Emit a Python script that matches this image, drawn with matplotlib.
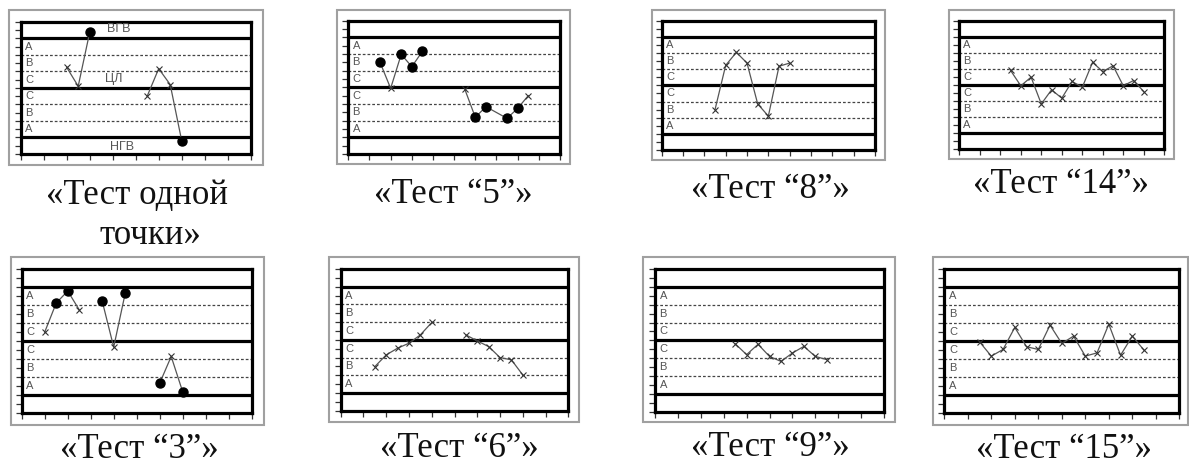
import numpy as np
import matplotlib
matplotlib.use('Agg')
from matplotlib import pyplot as plt
from matplotlib.patches import Rectangle

nan = np.nan

# control chart series, y in sigma units from the centre line
one_x = [2, 2.5, 3, nan, 5.5, 6, 6.5, 7]
one_y = [1.24, 0.1, 3.36, nan, -0.5, 1.16, 0.2, -3.2]
one_hit = [0, 0, 1, 0, 0, 0, 0, 1]

five_x = [1.5, 2, 2.5, 3, 3.5, nan, 5.5, 6, 6.5, 7.5, 8, 8.5]
five_y = [1.5, -0.06, 1.98, 1.24, 2.16, nan, -0.1, -1.8, -1.16, -1.86, -1.26, -0.5]
five_hit = [1, 0, 1, 1, 1, 0, 0, 1, 1, 1, 1, 0]

eight_x = [2.5, 3, 3.5, 4, 4.5, 5, 5.5, 6]
eight_y = [-1.5, 1.24, 2.04, 1.38, -1.15, -1.9, 1.18, 1.38]

fourteen_x = [2.5, 3, 3.5, 4, 4.5, 5, 5.5, 6, 6.5, 7, 7.5, 8, 8.5, 9]
fourteen_y = [0.9, -0.06, 0.48, -1.19, -0.31, -0.83, 0.21, -0.15, 1.4, 0.83,
              1.19, -0.06, 0.27, -0.42]

three_x = [1, 1.5, 2, 2.5, nan, 3.5, 4, 4.5, nan, 6, 6.5, 7]
three_y = [0.5, 2.11, 2.78, 1.74, nan, 2.22, -0.33, 2.65, nan, -2.33, -0.85, -2.81]
three_hit = [0, 1, 1, 0, 0, 1, 0, 1, 0, 1, 0, 1]

six_x = [1.5, 2, 2.5, 3, 3.5, 4, nan, 5.5, 6, 6.5, 7, 7.5, 8]
six_y = [-1.51, -0.85, -0.47, -0.19, 0.28, 0.98, nan, 0.28, -0.06, -0.38, -1.0, -1.13, -1.98]

nine_x = [3.5, 4, 4.5, 5, 5.5, 6, 6.5, 7, 7.5]
nine_y = [-0.19, -0.8, -0.22, -0.9, -1.18, -0.71, -0.34, -0.9, -1.08]

fifteen_x = [1.5, 2, 2.5, 3, 3.5, 4, 4.5, 5, 5.5, 6, 6.5, 7, 7.5, 8, 8.5]
fifteen_y = [-0.04, -0.83, -0.46, 0.76, -0.31, -0.46, 0.89, -0.13, 0.28, -0.83,
             -0.65, 0.94, -0.78, 0.28, -0.5]

zone_labels = ['A', 'B', 'C', 'C', 'B', 'A']
zone_pos = [2.5, 1.5, 0.5, -0.5, -1.5, -2.5]

W, H = 1189, 466
fig = plt.figure(figsize=(W / 100, H / 100), dpi=100)


def px_rect(l, t, r, b):
    return [l / W, 1 - b / H, (r - l) / W, (b - t) / H]


def chart(box, frame, x, y, hit=None):
    # light grey outer frame
    fig.add_artist(Rectangle((frame[0] / W, 1 - frame[3] / H),
                             (frame[2] - frame[0]) / W, (frame[3] - frame[1]) / H,
                             transform=fig.transFigure, fill=False,
                             edgecolor='#a0a0a0', lw=1.5))
    ax = fig.add_axes(px_rect(*box))
    ax.set_xlim(0, 10)
    ax.set_ylim(-4, 4)
    for s in ax.spines.values():
        s.set_linewidth(2.3)
    for lv in (-3, 0, 3):
        ax.axhline(lv, color='black', lw=2.3)
    for lv in (-2, -1, 1, 2):
        ax.axhline(lv, color='#444444', lw=0.9, ls=(0, (2.2, 1.6)))
    ax.set_xticks(np.arange(0, 11, 1))
    ax.set_yticks(np.arange(-4, 4.01, 0.5))
    ax.tick_params(direction='out', length=4.5, width=0.9, colors='#333333',
                   labelbottom=False, labelleft=False)
    for lab, yy in zip(zone_labels, zone_pos):
        ax.text(0.2, yy, lab, ha='left', va='center', fontsize=8,
                family='Liberation Sans', color='#555555')
    x = np.array(x, dtype=float)
    y = np.array(y, dtype=float)
    ax.plot(x, y, color='#555555', lw=0.9, marker='x', ms=4, mew=0.8,
            mec='#333333', zorder=3)
    if hit is not None:
        m = np.array(hit, dtype=bool)
        ax.plot(x[m], y[m], 'o', color='black', ms=6.5, ls='none', zorder=4)
    return ax


ax1 = chart((20.7, 21.7, 250.7, 154), (9, 10, 263, 165), one_x, one_y, one_hit)
for s, xx, yy in (('ВГВ', 4.25, 3.55), ('ЦЛ', 4.05, 0.55), ('НГВ', 4.4, -3.55)):
    ax1.text(xx, yy, s, ha='center', va='center', fontsize=9,
             family='Liberation Sans', color='#555555')
chart((348.3, 20.7, 560, 154), (337, 10, 570, 164), five_x, five_y, five_hit)
chart((661.7, 20.7, 875, 150), (651.7, 10, 885, 160), eight_x, eight_y)
chart((959.3, 20.7, 1164.3, 149), (949, 10, 1174, 159), fourteen_x, fourteen_y)
chart((21.7, 269, 251.7, 413.3), (10.7, 257.3, 264.3, 425), three_x, three_y, three_hit)
chart((340.7, 269, 568.3, 410.7), (329, 257.3, 579.3, 422.3), six_x, six_y)
chart((655, 269, 884, 411.7), (643.3, 256.7, 895, 422.3), nine_x, nine_y)
chart((944.3, 269, 1179.3, 413.3), (933.3, 257.3, 1188, 425), fifteen_x, fifteen_y)

# captions under each chart
captions = [
    ('«Тест одной', 137, 204), ('точки»', 150, 244),
    ('«Тест “5”»', 453, 203), ('«Тест “8”»', 770, 198), ('«Тест “14”»', 1061, 193),
    ('«Тест “3”»', 139, 458), ('«Тест “6”»', 459, 457), ('«Тест “9”»', 770, 456),
    ('«Тест “15”»', 1064, 458),
]
for s, xx, yy in captions:
    fig.text(xx / W, 1 - yy / H, s, ha='center', va='baseline', fontsize=25,
             family='Liberation Serif', color='#111111')

fig.savefig('out.png', dpi=100)
